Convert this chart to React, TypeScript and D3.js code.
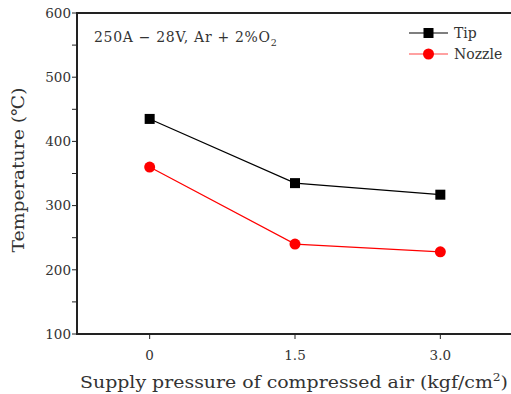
import { useEffect, useRef } from 'react';
import * as d3 from 'd3';

const pressures = [0, 1.5, 3.0];
const tipTemps = [435, 335, 317];
const nozzleTemps = [360, 240, 228];
const xTickLabels = ['0', '1.5', '3.0'];
const yTicks = [100, 200, 300, 400, 500, 600];

const App = () => {
  const svgRef = useRef<SVGSVGElement>(null);

  useEffect(() => {
    const width = 511;
    const height = 394;
    const font = "'DejaVu Serif', serif";
    const textColor = '#333';

    const x = d3.scaleLinear([-0.75, 3.75], [77, 513]);
    const y = d3.scaleLinear([100, 600], [334, 13]);

    const svg = d3.select(svgRef.current!);
    svg.selectAll('*').remove();
    svg.attr('width', width).attr('height', height);

    svg.append('rect').attr('width', width).attr('height', height).attr('fill', '#fff');

    // frame
    svg
      .append('rect')
      .attr('x', x(-0.75))
      .attr('y', y(600))
      .attr('width', x(3.75) - x(-0.75))
      .attr('height', y(100) - y(600))
      .attr('fill', 'none')
      .attr('stroke', '#222')
      .attr('stroke-width', 2);

    // y axis ticks
    const yAxis = svg.append('g');
    d3.range(100, 601, 50).forEach((v) => {
      yAxis
        .append('line')
        .attr('x1', x(-0.75) - 5)
        .attr('x2', x(-0.75))
        .attr('y1', y(v))
        .attr('y2', y(v))
        .attr('stroke', '#222')
        .attr('stroke-width', 1);
    });
    yAxis
      .selectAll('text')
      .data(yTicks)
      .join('text')
      .attr('x', x(-0.75) - 6)
      .attr('y', (d) => y(d))
      .attr('dy', '0.35em')
      .attr('text-anchor', 'end')
      .attr('font-family', font)
      .attr('font-size', 13.5)
      .attr('fill', textColor)
      .text((d) => d);

    // x axis ticks
    const xAxis = svg.append('g');
    pressures.forEach((p, i) => {
      xAxis
        .append('line')
        .attr('x1', x(p))
        .attr('x2', x(p))
        .attr('y1', y(100))
        .attr('y2', y(100) + 5)
        .attr('stroke', '#222')
        .attr('stroke-width', 1);
      xAxis
        .append('text')
        .attr('x', x(p))
        .attr('y', 360)
        .attr('text-anchor', 'middle')
        .attr('font-family', font)
        .attr('font-size', 13.5)
        .attr('fill', textColor)
        .text(xTickLabels[i]);
    });

    // axis titles
    const xTitle = svg
      .append('text')
      .attr('x', 80)
      .attr('y', 388)
      .attr('font-family', font)
      .attr('font-size', 17)
      .attr('fill', textColor)
      .attr('textLength', 428)
      .attr('lengthAdjust', 'spacingAndGlyphs');
    xTitle.append('tspan').text('Supply pressure of compressed air (kgf/cm');
    xTitle.append('tspan').attr('font-size', 11).attr('dy', -7).text('2');
    xTitle.append('tspan').attr('dy', 7).text(')');

    svg
      .append('text')
      .attr('transform', 'translate(24,170) rotate(-90)')
      .attr('text-anchor', 'middle')
      .attr('font-family', font)
      .attr('font-size', 17)
      .attr('fill', textColor)
      .attr('textLength', 165)
      .attr('lengthAdjust', 'spacingAndGlyphs')
      .text('Temperature (℃)');

    // annotation
    const note = svg
      .append('text')
      .attr('x', 94)
      .attr('y', 42)
      .attr('font-family', font)
      .attr('font-size', 14)
      .attr('fill', textColor);
    note
      .append('tspan')
      .attr('textLength', 176)
      .attr('lengthAdjust', 'spacing')
      .text('250A − 28V, Ar + 2%O');
    note.append('tspan').attr('font-size', 9.5).attr('dy', 4).text('2');

    const line = d3
      .line<number>()
      .x((_, i) => x(pressures[i]))
      .y((d) => y(d));

    // Tip series
    svg
      .append('path')
      .attr('d', line(tipTemps))
      .attr('fill', 'none')
      .attr('stroke', '#000')
      .attr('stroke-width', 1.2);
    svg
      .selectAll('rect.tip')
      .data(tipTemps)
      .join('rect')
      .attr('class', 'tip')
      .attr('x', (_, i) => x(pressures[i]) - 5)
      .attr('y', (d) => y(d) - 5)
      .attr('width', 10)
      .attr('height', 10)
      .attr('fill', '#000');

    // Nozzle series
    svg
      .append('path')
      .attr('d', line(nozzleTemps))
      .attr('fill', 'none')
      .attr('stroke', '#f00')
      .attr('stroke-width', 1.2);
    svg
      .selectAll('circle.nozzle')
      .data(nozzleTemps)
      .join('circle')
      .attr('class', 'nozzle')
      .attr('cx', (_, i) => x(pressures[i]))
      .attr('cy', (d) => y(d))
      .attr('r', 5.5)
      .attr('fill', '#f00');

    // legend
    const legend = svg.append('g');
    const items = [
      { name: 'Tip', color: '#000', shape: 'square', yPos: 33 },
      { name: 'Nozzle', color: '#f44', shape: 'circle', yPos: 54 },
    ];
    items.forEach((it) => {
      legend
        .append('line')
        .attr('x1', 409)
        .attr('x2', 448)
        .attr('y1', it.yPos)
        .attr('y2', it.yPos)
        .attr('stroke', it.color)
        .attr('stroke-width', 1.2);
      if (it.shape === 'square') {
        legend
          .append('rect')
          .attr('x', 423.5)
          .attr('y', it.yPos - 5)
          .attr('width', 10)
          .attr('height', 10)
          .attr('fill', '#000');
      } else {
        legend.append('circle').attr('cx', 428.5).attr('cy', it.yPos).attr('r', 5.5).attr('fill', '#f00');
      }
      legend
        .append('text')
        .attr('x', 454)
        .attr('y', it.yPos)
        .attr('dy', '0.35em')
        .attr('font-family', font)
        .attr('font-size', 14)
        .attr('fill', textColor)
        .text(it.name);
    });
  }, []);

  return <svg ref={svgRef} style={{ position: 'absolute', left: 0, top: 0 }}></svg>;
};

export default App;
